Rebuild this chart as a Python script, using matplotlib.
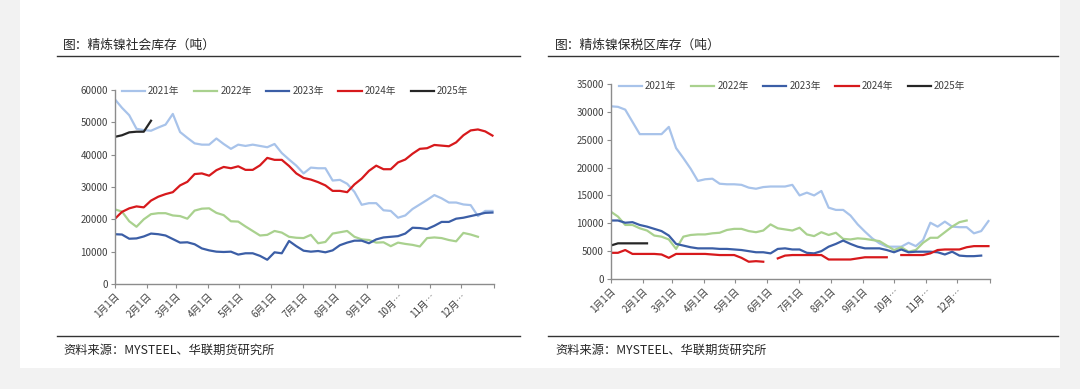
import numpy as np
import matplotlib
matplotlib.use("Agg")
import matplotlib.pyplot as plt
from matplotlib.patches import Rectangle

plt.rcParams['font.family'] = ['Noto Sans CJK SC', 'DejaVu Sans']

# ---------------- data ----------------
years = ["2021年", "2022年", "2023年", "2024年", "2025年"]
colors = ["#a8c3ea", "#a9d18e", "#3b5ea6", "#d7191c", "#262626"]

month_ticks = [0, 31, 59, 90, 120, 151, 181, 212, 243, 273, 304, 334, 365]
month_labels = ["1月1日", "2月1日", "3月1日", "4月1日", "5月1日", "6月1日",
                "7月1日", "8月1日", "9月1日", "10月…", "11月…", "12月…", ""]

# 精炼镍社会库存 (吨), weekly
social_2021 = [57.2, 54.5, 52.2, 48.0, 47.6, 47.4, 48.4, 49.3, 52.6, 47.0, 45.2, 43.5, 43.1,
               43.1, 45.0, 43.3, 41.8, 43.1, 42.7, 43.1, 42.7, 42.3, 43.3, 40.5, 38.5, 36.6,
               34.2, 36.0, 35.8, 35.8, 32.0, 32.2, 31.0, 28.5, 24.5, 25.0, 25.0, 22.8, 22.6,
               20.5, 21.2, 23.2, 24.6, 26.0, 27.5, 26.5, 25.2, 25.2, 24.6, 24.4, 21.0, 22.6, 22.6]
social_2022 = [23.1, 22.4, 19.4, 17.7, 20.0, 21.6, 21.9, 21.9, 21.2, 21.0, 20.2, 22.7, 23.3,
               23.4, 22.0, 21.3, 19.4, 19.3, 17.8, 16.4, 15.0, 15.2, 16.4, 15.9, 14.6, 14.3,
               14.2, 15.2, 12.6, 13.0, 15.6, 16.0, 16.4, 14.6, 13.8, 13.6, 12.8, 12.9, 11.7,
               12.8, 12.4, 12.1, 11.6, 14.2, 14.4, 14.2, 13.6, 13.2, 15.8, 15.3, 14.6]
social_2023 = [15.4, 15.3, 14.0, 14.1, 14.7, 15.6, 15.4, 15.0, 13.9, 12.8, 12.9, 12.3, 11.0,
               10.4, 10.0, 9.9, 10.0, 9.1, 9.5, 9.5, 8.7, 7.5, 9.8, 9.5, 13.3, 11.7,
               10.3, 10.0, 10.2, 9.8, 10.4, 12.0, 12.8, 13.4, 13.4, 12.6, 13.8, 14.4, 14.6,
               14.8, 15.6, 17.4, 17.3, 17.0, 18.0, 19.2, 19.2, 20.2, 20.5, 21.0, 21.5, 22.0, 22.1]
social_2024 = [20.1, 22.3, 23.4, 24.0, 23.7, 25.8, 27.0, 27.8, 28.4, 30.5, 31.6, 34.0, 34.2,
               33.5, 35.2, 36.2, 35.8, 36.4, 35.3, 35.3, 36.7, 39.0, 38.4, 38.4, 36.5, 34.2,
               32.8, 32.3, 31.5, 30.5, 28.8, 28.8, 28.4, 30.8, 32.6, 35.0, 36.6, 35.5, 35.5,
               37.6, 38.5, 40.3, 41.8, 42.0, 43.0, 42.8, 42.6, 43.8, 46.0, 47.5, 47.8, 47.2, 45.9]
social_2025 = [45.5, 46.0, 46.9, 47.1, 47.1, 50.5]

# 精炼镍保税区库存 (吨), weekly
bonded_2021 = [31.0, 30.9, 30.4, 28.2, 26.0, 26.0, 26.0, 26.0, 27.3, 23.5, 21.7, 19.8, 17.6,
               17.9, 18.0, 17.1, 17.0, 17.0, 16.9, 16.4, 16.2, 16.5, 16.6, 16.6, 16.6, 16.9,
               15.0, 15.5, 15.0, 15.8, 12.8, 12.4, 12.4, 11.4, 9.8, 8.5, 7.3, 6.4, 5.8,
               5.8, 5.8, 6.5, 5.9, 7.0, 10.1, 9.4, 10.3, 9.4, 9.3, 9.3, 8.2, 8.6, 10.4]
bonded_2022 = [12.1, 11.2, 9.7, 9.7, 9.1, 8.7, 7.8, 7.6, 7.1, 5.4, 7.6, 7.9, 8.0,
               8.0, 8.2, 8.3, 8.8, 9.0, 9.0, 8.6, 8.4, 8.7, 9.8, 9.1, 8.9, 8.7,
               9.2, 8.0, 7.7, 8.4, 7.9, 8.3, 7.2, 7.1, 7.3, 7.2, 7.0, 6.8, 6.0,
               5.2, 5.7, 4.9, 5.2, 6.5, 7.4, 7.4, 8.4, 9.4, 10.2, 10.5]
bonded_2023 = [10.5, 10.5, 10.1, 10.2, 9.7, 9.4, 9.0, 8.6, 7.8, 6.3, 6.0, 5.7, 5.5,
               5.5, 5.5, 5.4, 5.4, 5.3, 5.2, 5.0, 4.8, 4.8, 4.6, 5.4, 5.5, 5.3,
               5.3, 4.7, 4.6, 5.0, 5.8, 6.3, 6.9, 6.3, 5.8, 5.5, 5.5, 5.5, 5.2,
               4.8, 5.3, 4.8, 4.9, 4.9, 4.9, 4.8, 4.4, 4.9, 4.2, 4.1, 4.1, 4.2]
bonded_2024 = [4.7, 4.7, 5.2, 4.5, 4.5, 4.5, 4.5, 4.4, 3.8, 4.5, 4.5, 4.5, 4.5,
               4.5, 4.4, 4.3, 4.3, 4.3, 3.8, 3.1, 3.2, 3.1, np.nan, 3.7, 4.2, 4.3,
               4.3, 4.3, 4.3, 4.3, 3.5, 3.5, 3.5, 3.5, 3.7, 3.9, 3.9, 3.9, 3.9,
               np.nan, 4.3, 4.3, 4.3, 4.3, 4.6, 5.2, 5.3, 5.3, 5.3, 5.7, 5.9, 5.9, 5.9]
bonded_2025 = [6.0, 6.4, 6.4, 6.4, 6.4, 6.4]

social = [social_2021, social_2022, social_2023, social_2024, social_2025]
bonded = [bonded_2021, bonded_2022, bonded_2023, bonded_2024, bonded_2025]

# ---------------- figure ----------------
W, H = 1080, 389
fig = plt.figure(figsize=(W / 100, H / 100), dpi=100)
fig.patch.set_facecolor("#f2f2f2")
fig.patches.append(Rectangle((20 / W, 1 - 368 / H), 1040 / W, 368 / H,
                             transform=fig.transFigure, facecolor="white",
                             edgecolor="none", zorder=-5))


def fx(px):
    return px / W


def fy(py):
    return 1 - py / H


TXT = "#262626"
TICK = "#404040"
SPINE = "#8c8c8c"


def panel(x_title, x_line0, x_line1, title, ax_rect, ymax, ystep, data, leg_center):
    fig.text(fx(x_title), fy(45), title, fontsize=9.2, color=TXT, va="center", ha="left")
    fig.add_artist(plt.Line2D([fx(x_line0), fx(x_line1)], [fy(56), fy(56)],
                              transform=fig.transFigure, color="#333333", lw=1.0))
    fig.add_artist(plt.Line2D([fx(x_line0), fx(x_line1)], [fy(336), fy(336)],
                              transform=fig.transFigure, color="#333333", lw=1.0))
    fig.text(fx(x_title), fy(350), "资料来源：MYSTEEL、华联期货研究所", fontsize=8.8,
             color=TXT, va="center", ha="left")

    x0, y0, x1, y1 = ax_rect
    ax = fig.add_axes([fx(x0), fy(y1), fx(x1 - x0), (y1 - y0) / H])
    ax.set_facecolor("none")
    handles = []
    for vals, c, lab in zip(data, colors, years):
        days = np.arange(len(vals)) * 7
        v = np.array(vals, dtype=float) * 1000
        h, = ax.plot(days, v, color=c, lw=1.6, label=lab, solid_joinstyle="round")
        handles.append(h)
    ax.set_xlim(0, 365)
    ax.set_ylim(0, ymax)
    ax.set_yticks(np.arange(0, ymax + 1, ystep))
    ax.set_yticklabels([str(int(t)) for t in np.arange(0, ymax + 1, ystep)])
    ax.set_xticks(month_ticks)
    ax.set_xticklabels(month_labels, rotation=45, ha="right", va="top",
                       rotation_mode="anchor")
    for s in ["top", "right"]:
        ax.spines[s].set_visible(False)
    for s in ["left", "bottom"]:
        ax.spines[s].set_color(SPINE)
        ax.spines[s].set_linewidth(1.0)
    ax.tick_params(axis="both", colors=SPINE, labelcolor=TICK, labelsize=7,
                   length=3, width=0.8, direction="out")
    ax.tick_params(axis="x", pad=2)
    ax.tick_params(axis="y", pad=2)
    leg = fig.legend(handles=handles, loc="center",
                     bbox_to_anchor=(fx(leg_center[0]), fy(leg_center[1])),
                     ncol=5, frameon=False, fontsize=7, handlelength=2.4,
                     columnspacing=1.5, handletextpad=0.3, borderaxespad=0)
    for t in leg.get_texts():
        t.set_color(TICK)
    return ax


panel(63, 57, 520, "图：精炼镍社会库存（吨）", (114.7, 90, 493.5, 284),
      60000, 10000, social, (295, 91))
panel(555, 548, 1058, "图：精炼镍保税区库存（吨）", (610.7, 84, 989.5, 279),
      35000, 5000, bonded, (792, 86))

fig.savefig("out.png", dpi=100, facecolor=fig.get_facecolor())
